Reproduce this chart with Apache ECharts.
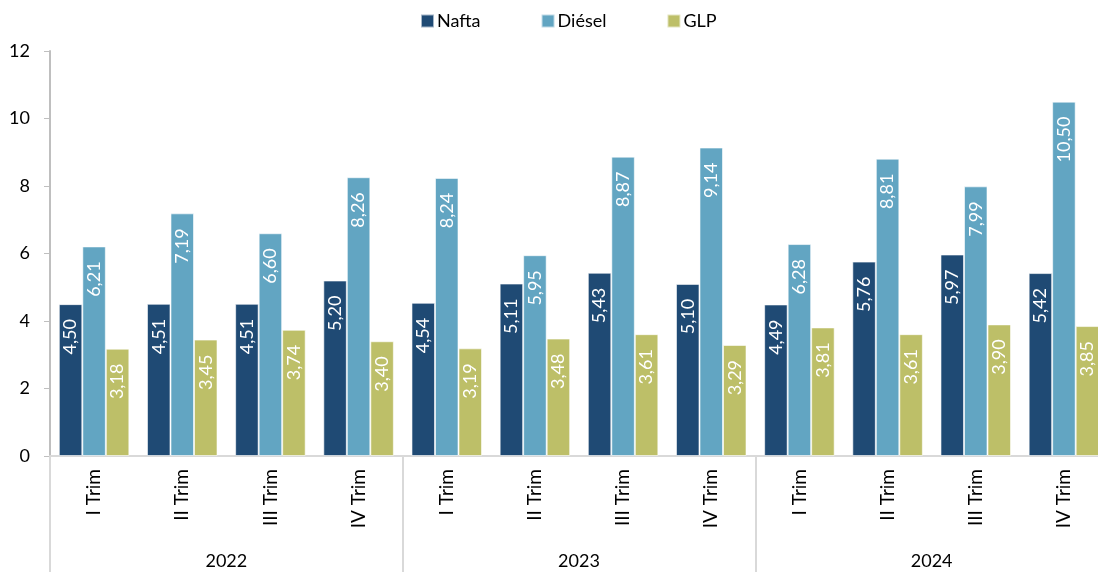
<!DOCTYPE html>
<html>
<head>
<meta charset="utf-8">
<script src="https://cdn.jsdelivr.net/npm/echarts@6/dist/echarts.min.js"></script>
<style>
  html, body { margin: 0; padding: 0; background: #fff; overflow: hidden; }
  #main { width: 1108px; height: 572px; }
</style>
</head>
<body>
<div id="main"></div>
<script>
var quarters = ["I Trim", "II Trim", "III Trim", "IV Trim",
                "I Trim", "II Trim", "III Trim", "IV Trim",
                "I Trim", "II Trim", "III Trim", "IV Trim"];
var years = ["2022", "2023", "2024"];
var nafta = [4.50, 4.51, 4.51, 5.20, 4.54, 5.11, 5.43, 5.10, 4.49, 5.76, 5.97, 5.42];
var diesel = [6.21, 7.19, 6.60, 8.26, 8.24, 5.95, 8.87, 9.14, 6.28, 8.81, 7.99, 10.50];
var glp = [3.18, 3.45, 3.74, 3.40, 3.19, 3.48, 3.61, 3.29, 3.81, 3.61, 3.90, 3.85];

var font = "Lato, 'Noto Sans', sans-serif";

function barLabel() {
  return {
    show: true,
    position: "insideTop",
    distance: 15,
    rotate: 90,
    align: "right",
    verticalAlign: "middle",
    color: "#fff",
    fontSize: 18,
    fontFamily: font,
    formatter: function (p) {
      return p.value.toFixed(2).replace(".", ",");
    }
  };
}

function makeSeries(name, data, color) {
  return {
    name: name,
    type: "bar",
    data: data,
    barGap: "0%",
    barCategoryGap: "20%",
    itemStyle: { color: color, borderColor: "rgba(255,255,255,0.6)", borderWidth: 1 },
    label: barLabel()
  };
}

var chartDom = document.getElementById("main");
var myChart = echarts.init(chartDom);
var option;

option = {
  animation: false,
  textStyle: { fontFamily: font },
  legend: {
    top: 7,
    left: 415,
    itemWidth: 13,
    itemHeight: 13,
    itemGap: 60,
    icon: "rect",
    textStyle: { fontSize: 18, color: "#000", fontFamily: font, padding: [0, 0, 0, -2] },
    data: ["Nafta", "Diésel", "GLP"]
  },
  grid: { left: 50, right: 0, top: 51, bottom: 116 },
  xAxis: [
    {
      type: "category",
      data: quarters,
      axisLine: { lineStyle: { color: "#d9d9d9", width: 2 } },
      axisTick: { show: false },
      axisLabel: { rotate: 90, margin: 13, fontSize: 19, color: "#000", fontFamily: font }
    },
    {
      type: "category",
      data: years,
      position: "bottom",
      axisLine: { show: false },
      axisTick: { show: true, length: 120, lineStyle: { color: "#d9d9d9", width: 2 } },
      axisLabel: { margin: 96, fontSize: 18, color: "#000", fontFamily: font }
    }
  ],
  yAxis: {
    type: "value",
    min: 0,
    max: 12,
    interval: 2,
    axisLine: { show: true, lineStyle: { color: "#bfbfbf", width: 2 } },
    axisTick: { show: true, length: 6, lineStyle: { color: "#bfbfbf" } },
    splitLine: { show: false },
    axisLabel: { margin: 20, fontSize: 18, color: "#000", fontFamily: font }
  },
  series: [
    makeSeries("Nafta", nafta, "#1f4a74"),
    makeSeries("Diésel", diesel, "#62a5c2"),
    makeSeries("GLP", glp, "#bdbf68")
  ]
};

option && myChart.setOption(option);
</script>
</body>
</html>
